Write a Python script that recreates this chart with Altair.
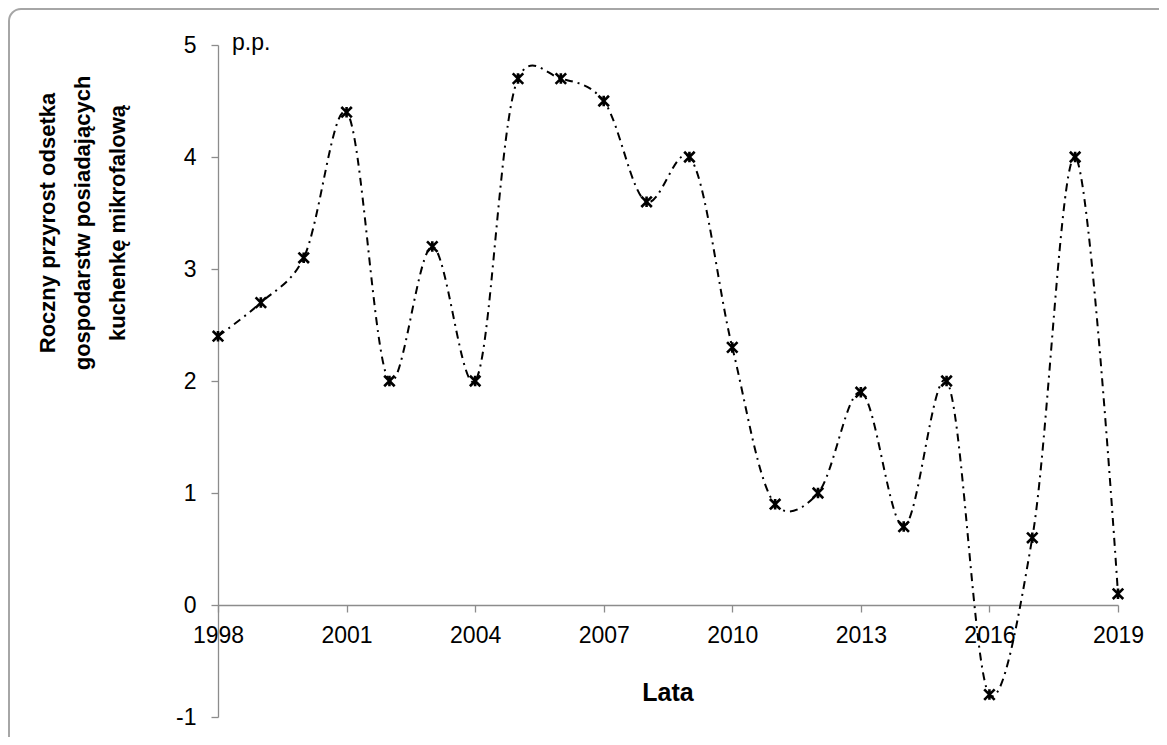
import altair as alt
import pandas as pd

years = list(range(1998, 2020))
values = [2.4, 2.7, 3.1, 4.4, 2.0, 3.2, 2.0, 4.7, 4.7, 4.5, 3.6, 4.0,
          2.3, 0.9, 1.0, 1.9, 0.7, 2.0, -0.8, 0.6, 4.0, 0.1]
x_ticks = [1998, 2001, 2004, 2007, 2010, 2013, 2016, 2019]
y_ticks = [-1, 0, 1, 2, 3, 4, 5]
y_title = ["Roczny przyrost odsetka", "gospodarstw posiadających", "kuchenkę mikrofalową"]
x_title = "Lata"
unit = "p.p."

W, H = 900, 672
FONT = "Liberation Sans"
AX = "#8c8c8c"

df = pd.DataFrame({"rok": years, "wartosc": values})
one = pd.DataFrame({"k": [0]})

x_enc = alt.X(
    "rok:Q",
    scale=alt.Scale(domain=[1998, 2019], nice=False, zero=False),
    axis=alt.Axis(values=x_ticks, format="d", title=None, grid=False, offset=-112,
                  domainColor=AX, tickColor=AX, domainWidth=1.3, tickWidth=1.3,
                  tickSize=7, labelPadding=12, labelFontSize=23, labelColor="black",
                  labelFont=FONT, labelFlush=False, labelOverlap=False),
)
y_enc = alt.Y(
    "wartosc:Q",
    scale=alt.Scale(domain=[-1, 5], nice=False, zero=False),
    axis=alt.Axis(values=y_ticks, title=None, grid=False, labelExpr="'' + datum.value",
                  domainColor=AX, tickColor=AX, domainWidth=1.3, tickWidth=1.3,
                  tickSize=7, labelPadding=15, labelFontSize=23, labelColor="black",
                  labelFont=FONT, labelFlush=False, labelOverlap=False),
)

border = alt.Chart(one).mark_rect(
    cornerRadius=12, fillOpacity=0, stroke="#a6a6a6", strokeWidth=2
).encode(x=alt.value(-209), y=alt.value(-36), x2=alt.value(960), y2=alt.value(720))

line = alt.Chart(df).mark_line(
    interpolate="catmull-rom", tension=0.2, strokeDash=[8, 5, 2, 5], color="black", strokeWidth=2
).encode(x=x_enc, y=y_enc)

points = alt.Chart(df).mark_point(
    shape="M-1,-1L1,1M1,-1L-1,1M0,-1L0,1", size=110, filled=False,
    stroke="black", strokeWidth=2.6, opacity=1
).encode(x="rok:Q", y="wartosc:Q")

ytitle = alt.Chart(one).mark_text(
    angle=270, align="center", baseline="alphabetic", fontSize=22, fontWeight="bold",
    font=FONT, lineHeight=35, color="black"
).encode(x=alt.value(-163), y=alt.value(178), text=alt.value(y_title))

xtitle = alt.Chart(one).mark_text(
    align="center", baseline="alphabetic", fontSize=25, fontWeight="bold",
    font=FONT, color="black"
).encode(x=alt.value(450), y=alt.value(656), text=alt.value(x_title))

unit_txt = alt.Chart(one).mark_text(
    align="left", baseline="alphabetic", fontSize=23, font=FONT, color="black"
).encode(x=alt.value(14), y=alt.value(5), text=alt.value(unit))

chart = alt.layer(border, line, points, ytitle, xtitle, unit_txt).properties(
    width=W, height=H,
    padding={"left": 210, "top": 37, "right": 41, "bottom": 20},
    autosize=alt.AutoSizeParams(type="none"),
    background="white",
).configure_view(stroke=None)

chart.save("out.html", embed_options={"renderer": "svg", "actions": False})
